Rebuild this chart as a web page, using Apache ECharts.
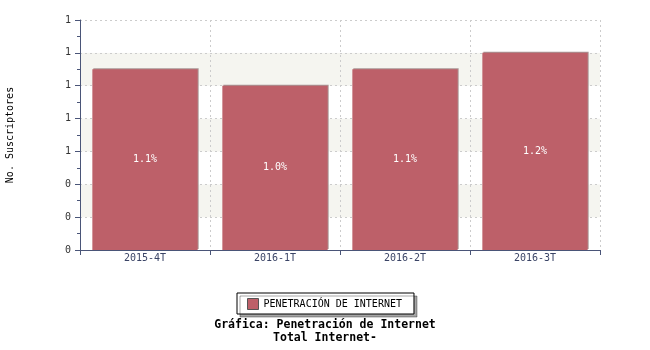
<!DOCTYPE html>
<html><head><meta charset="utf-8">
<script src="https://cdn.jsdelivr.net/npm/echarts@6/dist/echarts.min.js"></script>
<style>html,body{margin:0;padding:0;background:#fff}#c{width:650px;height:350px}</style>
</head><body><div id="c"></div>
<script>
const categories = ['2015-4T', '2016-1T', '2016-2T', '2016-3T'];
const values = [1.1, 1.0, 1.1, 1.2];
const seriesName = 'PENETRACIÓN DE INTERNET';
const yMin = 0, yMax = 1.4, yInterval = 0.2;
const titleText = 'Gráfica: Penetración de Internet\nTotal Internet-';
const yName = 'No. Suscriptores';

const font = 'DejaVu Sans Mono';
const axisColor = '#4a5578';
const chart = echarts.init(document.getElementById('c'), null, {renderer: 'canvas'});
chart.setOption({
  animation: false,
  textStyle: {fontFamily: font},
  title: {
    text: titleText, left: 320, textAlign: 'center', top: 314,
    textStyle: {fontFamily: font, fontSize: 11.5, fontWeight: 'bold', color: '#000', lineHeight: 13}
  },
  legend: {
    data: [seriesName], left: 237, top: 293, icon: 'rect', itemWidth: 11, itemHeight: 11,
    itemGap: 5, padding: [5, 12, 4, 10],
    backgroundColor: '#fff', borderColor: '#000', borderWidth: 1,
    shadowColor: 'rgba(0,0,0,0.35)', shadowOffsetX: 3, shadowOffsetY: 3, shadowBlur: 0,
    textStyle: {fontFamily: font, fontSize: 10, color: '#000'},
    itemStyle: {borderColor: '#555', borderWidth: 1}
  },
  grid: {left: 80, right: 50, top: 20, bottom: 100, containLabel: false, outerBoundsMode: 'none'},
  xAxis: {
    type: 'category', data: categories, boundaryGap: true,
    axisLine: {lineStyle: {color: axisColor, width: 1}},
    axisTick: {show: true, length: 5, lineStyle: {color: axisColor}},
    axisLabel: {color: '#3a4466', fontSize: 10, fontFamily: font, margin: 3},
    splitLine: {show: true, interval: 0, lineStyle: {color: '#ccc', type: [2, 3]}}
  },
  yAxis: {
    type: 'value', min: yMin, max: yMax, interval: yInterval,
    name: yName, nameLocation: 'middle', nameGap: 65, nameRotate: 90,
    nameTextStyle: {fontFamily: font, fontSize: 10, color: '#000'},
    axisLine: {show: true, lineStyle: {color: axisColor, width: 1}},
    axisTick: {show: true, length: 5, lineStyle: {color: axisColor}},
    minorTick: {show: true, splitNumber: 2, length: 3, lineStyle: {color: axisColor}},
    axisLabel: {color: '#333', fontSize: 10, fontFamily: font, margin: 9,
      formatter: v => Math.round(v).toString()},
    splitLine: {show: true, lineStyle: {color: '#ccc', type: [2, 3]}},
    splitArea: {show: true, areaStyle: {color: ['#ffffff', '#f5f5f0']}}
  },
  series: [{
    name: seriesName, type: 'bar', data: values, barCategoryGap: '19%',
    itemStyle: {color: '#bd6069', shadowColor: '#a99494', shadowOffsetX: 1, shadowOffsetY: -1, shadowBlur: 0},
    label: {show: true, position: 'inside', color: '#fff', fontSize: 10, fontFamily: font,
      formatter: p => p.value.toFixed(1) + '%'}
  }]
});
</script></body></html>
